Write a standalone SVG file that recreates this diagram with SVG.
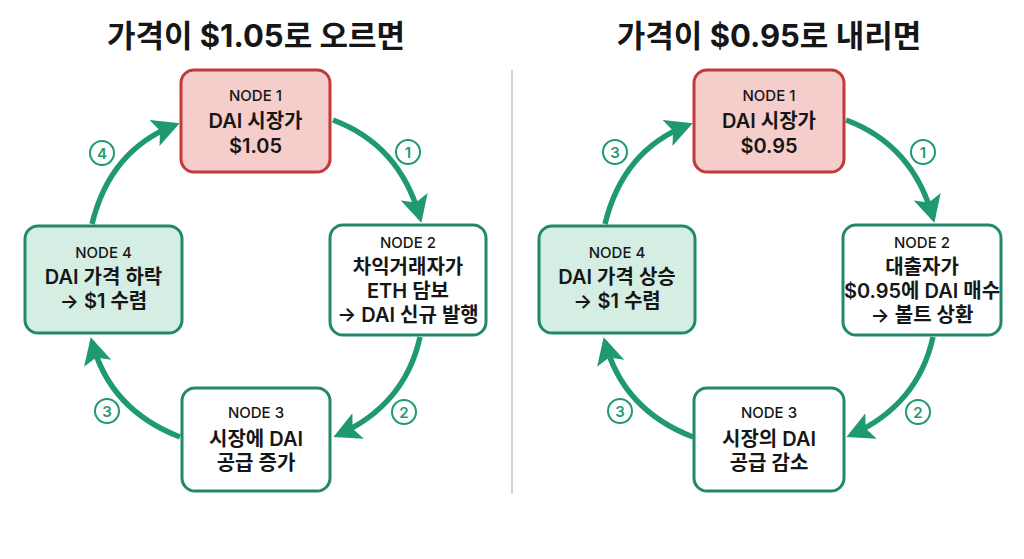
<svg xmlns="http://www.w3.org/2000/svg" width="1024" height="559" viewBox="0 0 1024 559">
<style>
text{font-family:"Inter","Noto Sans CJK KR","Noto Sans",sans-serif;fill:#161616;text-anchor:middle}
.title{font-size:31px;font-weight:700}
.tag{font-size:15px;font-weight:500}
.main{font-size:20px;font-weight:600}
.box{fill:#ffffff;stroke:#22886a;stroke-width:3}
.hot{fill:#f5cdcb;stroke:#c0393b;stroke-width:3}
.cool{fill:#d5eee3;stroke:#22886a;stroke-width:3}
.arr{fill:none;stroke:#1f9a70;stroke-width:5.5;marker-end:url(#ah)}
.lc{fill:#ffffff;stroke:#1f9a70;stroke-width:2}
.ln{font-size:15px;font-weight:600;fill:#1f9a70}
</style>
<defs>
<marker id="ah" markerUnits="userSpaceOnUse" markerWidth="28" markerHeight="28" refX="22" refY="14" orient="auto" viewBox="0 0 28 28">
<path d="M0,0 L27,14 L0,28 L6,14 z" fill="#1f9a70"/>
</marker>
</defs>
<rect width="1024" height="559" fill="#ffffff"/>
<text class="title" x="256" y="47">가격이 $1.05로 오르면</text>
<text class="title" x="769" y="47">가격이 $0.95로 내리면</text>
<line x1="512" y1="70" x2="512" y2="494" stroke="#c4c4c4" stroke-width="1.5"/>
<g id="connectors">
<path class="arr" d="M333,120 Q400,145 420,218"/>
<path class="arr" d="M420,337 Q405,405 338,435"/>
<path class="arr" d="M180,437 Q110,410 92,342"/>
<path class="arr" d="M92,224 Q110,150 175,125"/>
<path class="arr" d="M846,120 Q913,145 933,218"/>
<path class="arr" d="M933,337 Q918,405 851,435"/>
<path class="arr" d="M693,437 Q623,410 605,342"/>
<path class="arr" d="M605,224 Q623,150 688,125"/>
<g id="labels">
<circle class="lc" cx="408" cy="152" r="12"/><text class="ln" x="408" y="157.5">1</text>
<circle class="lc" cx="404" cy="412" r="12"/><text class="ln" x="404" y="417.5">2</text>
<circle class="lc" cx="107" cy="411" r="12"/><text class="ln" x="107" y="416.5">3</text>
<circle class="lc" cx="102" cy="153" r="12"/><text class="ln" x="102" y="158.5">4</text>
<circle class="lc" cx="923" cy="152" r="12"/><text class="ln" x="923" y="157.5">1</text>
<circle class="lc" cx="918" cy="412" r="12"/><text class="ln" x="918" y="417.5">2</text>
<circle class="lc" cx="620" cy="411" r="12"/><text class="ln" x="620" y="416.5">3</text>
<circle class="lc" cx="615" cy="152" r="12"/><text class="ln" x="615" y="157.5">3</text>
</g>
</g>
<g id="L-node1">
<rect class="hot" x="181" y="70" width="149" height="102" rx="13"/>
<text class="tag" x="255.5" y="101">NODE 1</text>
<text class="main" x="255.5" y="128">DAI 시장가</text>
<text class="main" x="255.5" y="153">$1.05</text>
</g>
<g id="L-node2">
<rect class="box" x="330" y="225" width="156" height="110" rx="13"/>
<text class="tag" x="408" y="248">NODE 2</text>
<text class="main" x="408" y="274">차익거래자가</text>
<text class="main" x="408" y="298">ETH 담보</text>
<text class="main" x="408" y="322">→ DAI 신규 발행</text>
</g>
<g id="L-node3">
<rect class="box" x="182" y="388" width="148" height="103" rx="13"/>
<text class="tag" x="256" y="418">NODE 3</text>
<text class="main" x="256" y="446">시장에 DAI</text>
<text class="main" x="256" y="470">공급 증가</text>
</g>
<g id="L-node4">
<rect class="cool" x="25" y="226" width="157" height="107" rx="13"/>
<text class="tag" x="103.5" y="258">NODE 4</text>
<text class="main" x="103.5" y="284">DAI 가격 하락</text>
<text class="main" x="103.5" y="308">→ $1 수렴</text>
</g>
<g id="R-node1">
<rect class="hot" x="694" y="70" width="150" height="102" rx="13"/>
<text class="tag" x="769" y="101">NODE 1</text>
<text class="main" x="769" y="128">DAI 시장가</text>
<text class="main" x="769" y="153">$0.95</text>
</g>
<g id="R-node2">
<rect class="box" x="843" y="225" width="158" height="110" rx="13"/>
<text class="tag" x="922" y="248">NODE 2</text>
<text class="main" x="922" y="274">대출자가</text>
<text class="main" x="922" y="298">$0.95에 DAI 매수</text>
<text class="main" x="922" y="322">→ 볼트 상환</text>
</g>
<g id="R-node3">
<rect class="box" x="694" y="388" width="150" height="103" rx="13"/>
<text class="tag" x="769" y="418">NODE 3</text>
<text class="main" x="769" y="446">시장의 DAI</text>
<text class="main" x="769" y="470">공급 감소</text>
</g>
<g id="R-node4">
<rect class="cool" x="539" y="226" width="156" height="107" rx="13"/>
<text class="tag" x="617" y="258">NODE 4</text>
<text class="main" x="617" y="284">DAI 가격 상승</text>
<text class="main" x="617" y="308">→ $1 수렴</text>
</g>
</svg>
